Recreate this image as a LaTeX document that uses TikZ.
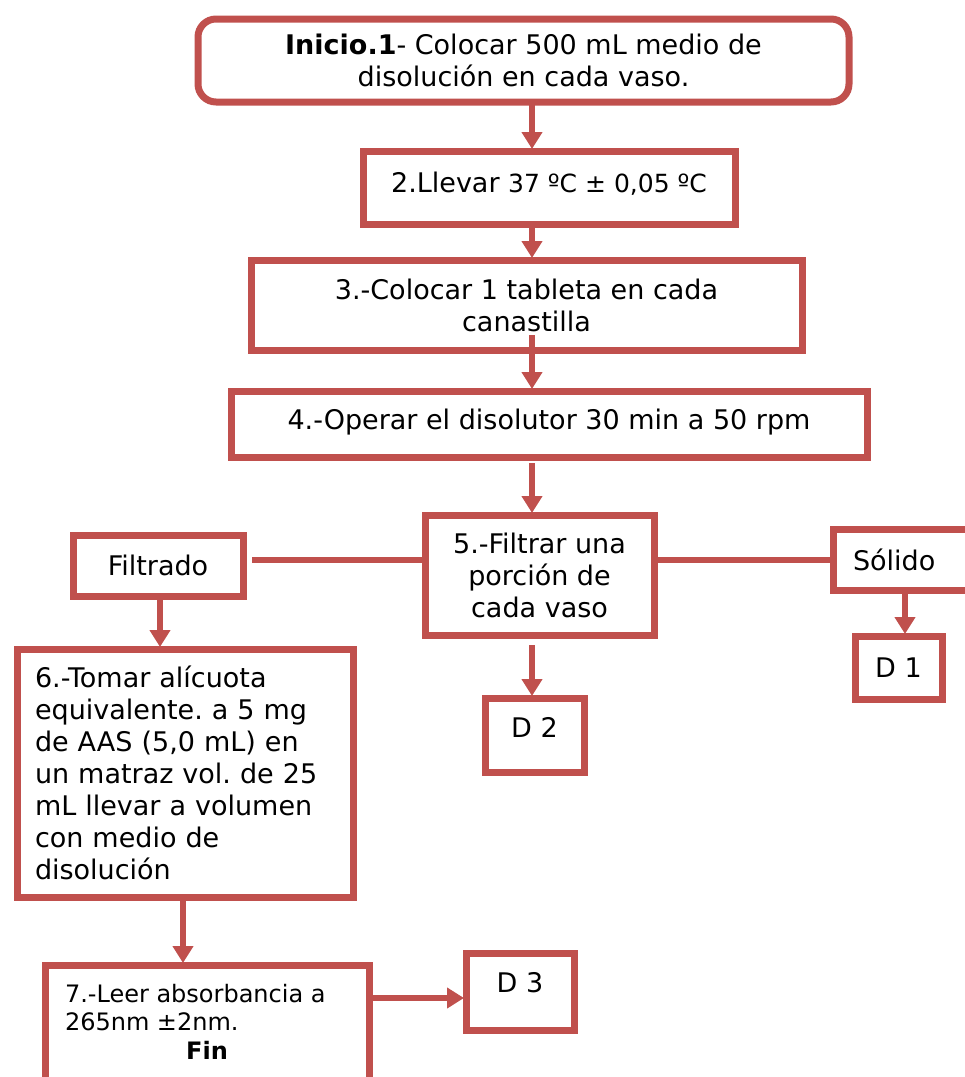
\documentclass[tikz,border=0pt]{standalone}
\usepackage{fontspec}
\setmainfont{DejaVu Sans}
\usetikzlibrary{arrows.meta,calc}
\definecolor{boxred}{HTML}{C0504D}
\frenchspacing
\begin{document}
\begin{tikzpicture}[x=1pt,y=-1pt,
  bx/.style={draw=boxred,line width=7pt,inner sep=0pt,outer sep=0pt,align=center,
    font=\fontsize{27}{32}\selectfont},
  ln/.style={draw=boxred,line width=5.5pt},
  arr/.style={ln,-{Triangle[width=20pt,length=17pt]}},
  txt/.style={inner sep=0pt,outer sep=0pt}]
\useasboundingbox (0,0) rectangle (965,1077);
% boxes
\node[bx,rounded corners=18pt,minimum width=651pt,minimum height=83pt] (b1) at (523.5,60.5)
  {\textbf{Inicio.1}- Colocar 500 mL medio de\\disolución en cada vaso.};
\node[bx,minimum width=372pt,minimum height=73pt,text depth=10pt] (b2) at (549,187.5)
  {2.Llevar {\fontsize{25}{30}\selectfont 37 ºC ± 0,05 ºC}};
\node[bx,minimum width=551pt,minimum height=90pt] (b3) at (526.5,305)
  {3.-Colocar 1 tableta en cada\\canastilla};
\node[bx,minimum width=636pt,minimum height=66pt,text depth=9pt] (b4) at (549,424)
  {4.-Operar el disolutor 30 min a 50 rpm};
\node[bx,minimum width=229pt,minimum height=120pt] (b5) at (539.5,575)
  {5.-Filtrar una\\porción de\\cada vaso};
\node[bx,minimum width=170pt,minimum height=61pt] (fil) at (158,565.5) {Filtrado};
\node[bx,anchor=west,text width=150pt,align=left,inner xsep=20pt,minimum height=61pt] (sol) at (833,559.5) {Sólido};
\node[bx,minimum width=87pt,minimum height=63pt] (d1) at (898.5,667.5) {D 1};
\node[bx,minimum width=99pt,minimum height=74pt,text depth=16pt] (d2) at (534.5,735) {D 2};
\node[bx,minimum width=336pt,minimum height=248pt,text width=300pt,align=left,inner xsep=18pt] (b6) at (185,773)
  {6.-Tomar alícuota\\equivalente. a 5 mg\\de AAS (5,0 mL) en\\un matraz vol. de 25\\mL llevar a volumen\\con medio de\\disolución};
\node[bx,minimum width=324pt,minimum height=130pt] (b7) at (207,1030) {};
\node[txt,anchor=north west,align=left,font=\fontsize{24}{28}\selectfont] (t7) at (65,984)
  {7.-Leer absorbancia a\\265nm ±2nm.};
\node[txt,font=\fontsize{24}{28}\selectfont\bfseries] (fin) at (207,1050) {Fin};
\node[bx,minimum width=108pt,minimum height=77pt,text depth=18pt] (d3) at (520,991.5) {D 3};
% helper coordinates
\coordinate (ax) at (532,0);
\coordinate (hy) at (0,560);
\coordinate (sx) at (905,0);
\coordinate (fx) at (160,0);
\coordinate (gx) at (183,0);
\coordinate (ay) at (0,998);
% connectors
\draw[arr] (ax |- b1.south) -- ($(ax |- b2.north)+(0,-2)$);
\draw[arr] (ax |- b2.south) -- ($(ax |- b3.north)+(0,-2)$);
\draw[arr] ($(ax |- b3.south)+(0,-15)$) -- ($(ax |- b4.north)+(0,-2)$);
\draw[arr] ($(ax |- b4.south)+(0,6)$) -- ($(ax |- b5.north)+(0,-2)$);
\draw[ln] ($(fil.east |- hy)+(9,0)$) -- (b5.west |- hy);
\draw[ln] (b5.east |- hy) -- (sol.west |- hy);
\draw[arr] ($(fx |- fil.south)+(0,3)$) -- ($(fx |- b6.north)+(0,-2)$);
\draw[arr] ($(ax |- b5.south)+(0,10)$) -- ($(ax |- d2.north)+(0,-2)$);
\draw[arr] ($(sx |- sol.south)+(0,4)$) -- ($(sx |- d1.north)+(0,-2)$);
\draw[arr] ($(gx |- b6.south)+(0,2)$) -- ($(gx |- b7.north)+(0,-2)$);
\draw[arr] (b7.east |- ay) -- ($(d3.west |- ay)+(-2,0)$);
\end{tikzpicture}
\end{document}
